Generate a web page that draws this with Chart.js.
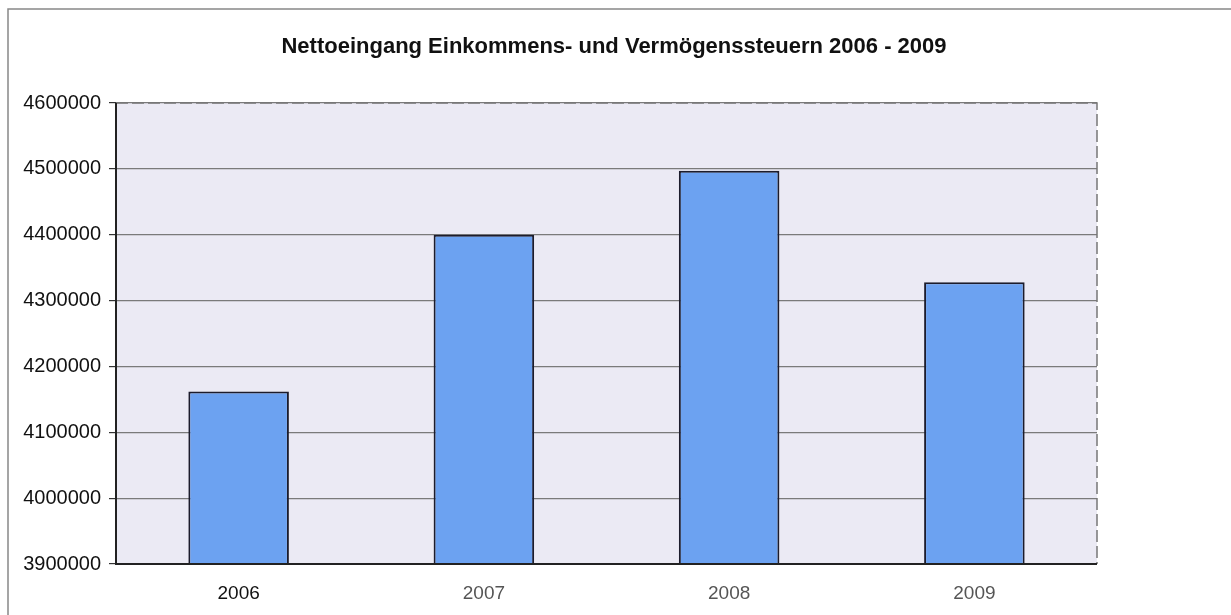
<!DOCTYPE html>
<html>
<head>
<meta charset="utf-8">
<script src="https://cdn.jsdelivr.net/npm/chart.js@4"></script>
<style>
  html, body { margin: 0; padding: 0; background: #fff; }
  #wrap { width: 1231px; height: 615px; }
</style>
</head>
<body>
<div id="wrap"><canvas id="taxChart"></canvas></div>
<script>
// Daten
const years = ['2006', '2007', '2008', '2009'];
const netRevenue = [4162000, 4400000, 4497000, 4328000];
const yTicks = [3900000, 4000000, 4100000, 4200000, 4300000, 4400000, 4500000, 4600000];
const titleText = 'Nettoeingang Einkommens- und Vermögenssteuern 2006 - 2009';

const FONT = 'Liberation Sans, Arial, sans-serif';

// Hintergrund, Rahmen, Titel und Außenlinien
const framePlugin = {
    id: 'frame',
    beforeDraw(chart) {
        const ctx = chart.ctx, a = chart.chartArea;
        ctx.save();
        ctx.fillStyle = '#fff';
        ctx.fillRect(0, 0, chart.width, chart.height);
        ctx.strokeStyle = '#888';
        ctx.lineWidth = 1.5;
        ctx.beginPath();
        ctx.moveTo(8, 615); ctx.lineTo(8, 9); ctx.lineTo(1231, 9);
        ctx.stroke();
        ctx.fillStyle = '#ebeaf4';
        ctx.fillRect(a.left, a.top, a.right - a.left, a.bottom - a.top);
        // Titel
        ctx.fillStyle = '#111';
        ctx.font = 'bold 22px ' + FONT;
        ctx.textAlign = 'center';
        ctx.textBaseline = 'middle';
        ctx.fillText(titleText, 614, 47);
        ctx.restore();
    },
    afterDatasetsDraw(chart) {
        const ctx = chart.ctx, a = chart.chartArea;
        ctx.save();
        ctx.strokeStyle = '#777';
        ctx.lineWidth = 1.5;
        ctx.setLineDash([12, 4]);
        ctx.beginPath();
        ctx.moveTo(a.left, a.top); ctx.lineTo(a.right, a.top); ctx.lineTo(a.right, a.bottom);
        ctx.stroke();
        ctx.setLineDash([]);
        ctx.strokeStyle = '#222';
        ctx.lineWidth = 2;
        ctx.beginPath();
        ctx.moveTo(a.left, a.top); ctx.lineTo(a.left, a.bottom); ctx.lineTo(a.right, a.bottom);
        ctx.stroke();
        ctx.restore();
    }
};

const ctx = document.getElementById('taxChart').getContext('2d');
new Chart(ctx, {
    type: 'bar',
    data: {
        labels: years,
        datasets: [{
            label: 'Nettoeingang',
            data: netRevenue,
            backgroundColor: '#6ca2f1',
            borderColor: '#1c1c2c',
            borderWidth: 2,
            borderSkipped: 'bottom',
            categoryPercentage: 1,
            barPercentage: 0.41
        }]
    },
    options: {
        responsive: true,
        maintainAspectRatio: false,
        animation: false,
        layout: { padding: { left: 0, right: 134, top: 103, bottom: 0 } },
        plugins: {
            legend: { display: false },
            tooltip: { enabled: false },
            title: { display: false }
        },
        scales: {
            y: {
                min: 3900000,
                max: 4600000,
                afterFit(scale) { scale.width = 116; },
                afterBuildTicks(scale) { scale.ticks = yTicks.map(v => ({ value: v })); },
                border: { display: false },
                grid: { color: '#7a7a7a', lineWidth: 1.2, tickLength: 7, tickColor: '#333' },
                ticks: {
                    color: '#111',
                    padding: 8,
                    font: { family: FONT, size: 20 },
                    callback: v => String(v)
                }
            },
            x: {
                afterFit(scale) { scale.height = 51; },
                border: { display: false },
                grid: { display: false },
                ticks: {
                    color: ['#111', '#555', '#555', '#555'],
                    padding: 10,
                    font: { family: FONT, size: 19 }
                }
            }
        }
    },
    plugins: [framePlugin]
});
</script>
</body>
</html>
